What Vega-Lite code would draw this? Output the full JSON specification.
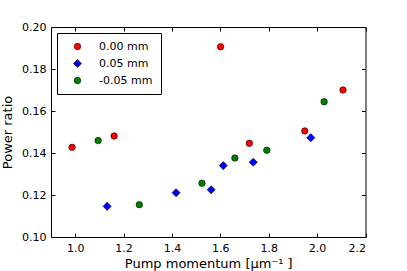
{
  "$schema": "https://vega.github.io/schema/vega-lite/v6.json",
  "width": 314.5,
  "height": 210,
  "autosize": {"type": "none"},
  "padding": {"left": 51, "top": 27, "right": 41, "bottom": 34},
  "config": {
    "font": "DejaVu Sans",
    "view": {"stroke": "#000000", "strokeWidth": 1},
    "axis": {"grid": false, "domain": false, "tickColor": "#000000", "tickSize": -4, "labelColor": "#000000", "titleColor": "#000000", "labelFont": "DejaVu Sans", "titleFont": "DejaVu Sans", "labelFontSize": 11, "titleFontSize": 13, "titleFontWeight": "normal", "labelPadding": 9}
  },
  "data": {"values": [
    {"k": 0.987, "r": 0.1427, "s": "0.00 mm"},
    {"k": 1.161, "r": 0.1481, "s": "0.00 mm"},
    {"k": 1.601, "r": 0.1906, "s": "0.00 mm"},
    {"k": 1.720, "r": 0.1446, "s": "0.00 mm"},
    {"k": 1.949, "r": 0.1505, "s": "0.00 mm"},
    {"k": 2.107, "r": 0.1700, "s": "0.00 mm"},
    {"k": 1.132, "r": 0.1146, "s": "0.05 mm"},
    {"k": 1.417, "r": 0.1211, "s": "0.05 mm"},
    {"k": 1.562, "r": 0.1225, "s": "0.05 mm"},
    {"k": 1.612, "r": 0.1340, "s": "0.05 mm"},
    {"k": 1.736, "r": 0.1356, "s": "0.05 mm"},
    {"k": 1.974, "r": 0.1473, "s": "0.05 mm"},
    {"k": 1.095, "r": 0.1459, "s": "-0.05 mm"},
    {"k": 1.265, "r": 0.1154, "s": "-0.05 mm"},
    {"k": 1.524, "r": 0.1256, "s": "-0.05 mm"},
    {"k": 1.660, "r": 0.1376, "s": "-0.05 mm"},
    {"k": 1.792, "r": 0.1413, "s": "-0.05 mm"},
    {"k": 2.029, "r": 0.1644, "s": "-0.05 mm"}
  ]},
  "layer": [
    {
      "mark": {"type": "point", "filled": true, "stroke": "#000000", "strokeWidth": 0.6, "opacity": 1},
      "encoding": {
        "x": {"field": "k", "type": "quantitative", "scale": {"domain": [0.9, 2.2], "nice": false, "zero": false},
              "axis": {"orient": "bottom", "values": [1.0, 1.2, 1.4, 1.6, 1.8, 2.0, 2.2], "format": ".1f", "title": "Pump momentum [μm⁻¹ ]", "titlePadding": 4}},
        "y": {"field": "r", "type": "quantitative", "scale": {"domain": [0.10, 0.20], "nice": false, "zero": false},
              "axis": {"orient": "left", "values": [0.10, 0.12, 0.14, 0.16, 0.18, 0.20], "format": ".2f", "title": "Power ratio", "titlePadding": 7}},
        "color": {"field": "s", "type": "nominal", "title": null, "scale": {"domain": ["0.00 mm", "0.05 mm", "-0.05 mm"], "range": ["#ff0000", "#0000ff", "#008000"]},
                  "legend": {"title": null, "orient": "none", "legendX": 6, "legendY": 6, "strokeColor": "#000000", "fillColor": "#ffffff", "padding": 8, "symbolStrokeColor": "#000000", "symbolStrokeWidth": 0.6, "labelFontSize": 11, "labelFont": "DejaVu Sans", "labelColor": "#000000", "labelOffset": 16, "rowPadding": 5, "symbolOffset": 7}},
        "shape": {"field": "s", "type": "nominal", "title": null, "scale": {"domain": ["0.00 mm", "0.05 mm", "-0.05 mm"], "range": ["circle", "diamond", "circle"]}},
        "size": {"field": "s", "type": "nominal", "title": null, "scale": {"type": "ordinal", "domain": ["0.00 mm", "0.05 mm", "-0.05 mm"], "range": [42, 66, 42]}}
      }
    },
    {
      "mark": {"type": "point", "opacity": 0},
      "encoding": {
        "x": {"field": "k", "type": "quantitative", "axis": {"orient": "top", "values": [1.0, 1.2, 1.4, 1.6, 1.8, 2.0, 2.2], "labels": false, "title": null}},
        "y": {"field": "r", "type": "quantitative", "axis": {"orient": "right", "values": [0.10, 0.12, 0.14, 0.16, 0.18, 0.20], "labels": false, "title": null}}
      }
    }
  ],
  "resolve": {"axis": {"x": "independent", "y": "independent"}}
}
